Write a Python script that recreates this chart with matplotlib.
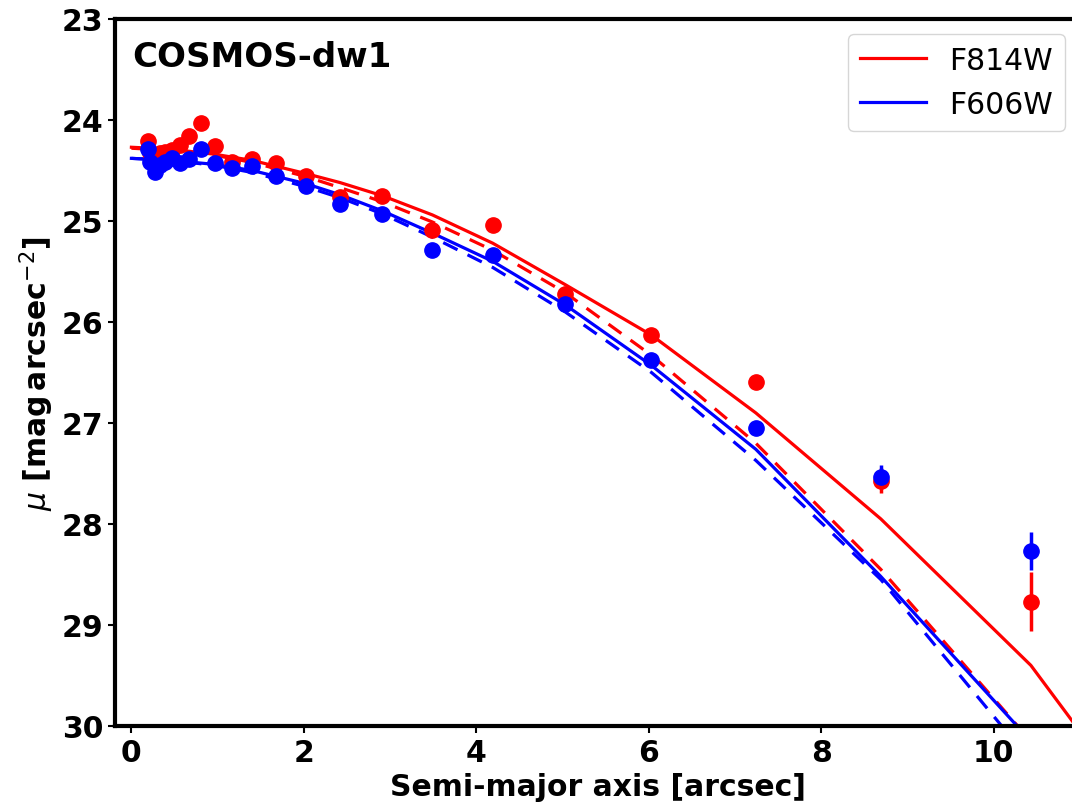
import matplotlib
matplotlib.use('Agg')
import matplotlib.pyplot as plt

# measured profile points (semi-major axis in arcsec)
radius = [0.19, 0.22, 0.27, 0.33, 0.39, 0.47, 0.56, 0.67, 0.81, 0.97, 1.17, 1.40,
          1.68, 2.02, 2.42, 2.90, 3.49, 4.19, 5.03, 6.03, 7.24, 8.69, 10.43]
mu_f814w = [24.21, 24.33, 24.40, 24.33, 24.32, 24.30, 24.25, 24.16, 24.03, 24.26, 24.42, 24.39,
            24.43, 24.55, 24.76, 24.75, 25.09, 25.04, 25.72, 26.13, 26.59, 27.57, 28.77]
err_f814w = [0.01, 0.01, 0.01, 0.01, 0.01, 0.01, 0.01, 0.01, 0.01, 0.01, 0.01, 0.01,
             0.01, 0.01, 0.02, 0.02, 0.03, 0.03, 0.04, 0.05, 0.06, 0.12, 0.29]
mu_f606w = [24.29, 24.42, 24.52, 24.45, 24.42, 24.38, 24.43, 24.39, 24.29, 24.43, 24.48, 24.46,
            24.55, 24.65, 24.83, 24.93, 25.29, 25.34, 25.82, 26.38, 27.05, 27.53, 28.27]
err_f606w = [0.01, 0.01, 0.01, 0.01, 0.01, 0.01, 0.01, 0.01, 0.01, 0.01, 0.01, 0.01,
             0.01, 0.01, 0.02, 0.02, 0.02, 0.03, 0.03, 0.04, 0.05, 0.11, 0.19]

# model curves
r_model = [0.0, 0.47, 0.97, 1.40, 2.02, 2.42, 2.91, 3.49, 4.19, 5.03, 6.03, 7.24, 8.69, 10.43, 12.52]
model_f814w = [24.27, 24.29, 24.34, 24.40, 24.53, 24.62, 24.75, 24.94, 25.22, 25.63, 26.13,
               26.90, 27.95, 29.40, 31.80]
model_f814w_alt = [24.28, 24.30, 24.35, 24.42, 24.56, 24.67, 24.81, 25.01, 25.29, 25.71, 26.33,
                   27.20, 28.45, 30.15, 32.50]
model_f606w = [24.38, 24.40, 24.44, 24.50, 24.63, 24.74, 24.90, 25.12, 25.40, 25.83, 26.43,
               27.26, 28.52, 30.15, 32.60]
model_f606w_alt = [24.38, 24.40, 24.45, 24.52, 24.66, 24.77, 24.93, 25.16, 25.46, 25.90, 26.50,
                   27.37, 28.55, 30.35, 32.80]

fs = 21.5
plt.rcParams['font.size'] = fs

fig = plt.figure(figsize=(10.72, 8.12), dpi=100)
# axes run slightly past the right edge of the figure, as in the original
ax = fig.add_axes([0.1073, 0.1047, 0.9002, 0.8707])

ax.plot(r_model, model_f814w, '-', color='red', lw=2.3, label='F814W')
ax.plot(r_model, model_f814w_alt, '--', color='red', lw=2.3, dashes=(5, 3.5))
ax.plot(r_model, model_f606w, '-', color='blue', lw=2.3, label='F606W')
ax.plot(r_model, model_f606w_alt, '--', color='blue', lw=2.3, dashes=(5, 3.5))

ax.errorbar(radius, mu_f814w, yerr=err_f814w, fmt='o', color='red', ms=11,
            elinewidth=2.5, capsize=0)
ax.errorbar(radius, mu_f606w, yerr=err_f606w, fmt='o', color='blue', ms=11,
            elinewidth=2.5, capsize=0)

ax.set_xlim(-0.19, 11.0)
ax.set_ylim(30, 23)
ax.set_xticks([0, 2, 4, 6, 8, 10])
ax.set_yticks([23, 24, 25, 26, 27, 28, 29, 30])
for s in ax.spines.values():
    s.set_linewidth(3)
ax.tick_params(width=1.5, length=5, labelsize=fs)
for lab in ax.get_xticklabels() + ax.get_yticklabels():
    lab.set_fontweight('bold')

ax.set_xlabel('Semi-major axis [arcsec]', fontsize=fs, fontweight='bold')
ax.set_ylabel(r'$\mu$ [mag$\,$arcsec$^{-2}$]', fontsize=fs, fontweight='bold')
ax.text(0.018, 0.97, 'COSMOS-dw1', transform=ax.transAxes, fontsize=24.5,
        fontweight='bold', va='top', ha='left')

leg = ax.legend(loc='upper right', prop={'size': fs}, handlelength=2.2)

fig.savefig('out.png', dpi=100)
